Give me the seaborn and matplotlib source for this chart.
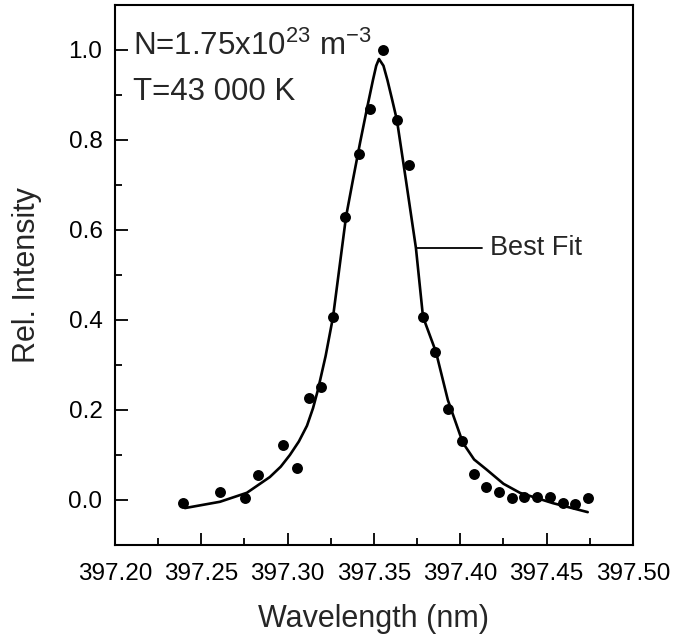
import matplotlib
matplotlib.use("Agg")
import matplotlib.pyplot as plt
from matplotlib.ticker import MultipleLocator
import seaborn as sns
import pandas as pd

wl_points = [397.2394, 397.2608, 397.2753, 397.2828, 397.2973, 397.3054, 397.3124,
             397.3193, 397.3263, 397.3332, 397.3413, 397.3477, 397.3552, 397.3633,
             397.3703, 397.3784, 397.3853, 397.3928, 397.4009, 397.4079, 397.4148,
             397.4224, 397.4299, 397.4368, 397.4443, 397.4518, 397.4594, 397.4663,
             397.4738]
int_points = [-0.007, 0.018, 0.004, 0.056, 0.122, 0.071, 0.227,
              0.251, 0.407, 0.629, 0.769, 0.869, 1.000, 0.844,
              0.744, 0.407, 0.329, 0.202, 0.131, 0.058, 0.029,
              0.018, 0.004, 0.007, 0.007, 0.007, -0.007, -0.009,
              0.004]

# best fit curve
wl_fit = [397.2405, 397.2608, 397.2764, 397.2897, 397.2960, 397.3013, 397.3065,
          397.3112, 397.3147, 397.3175, 397.3220, 397.3263, 397.3338, 397.3378,
          397.3420, 397.3459, 397.3494, 397.3513, 397.3529, 397.3555, 397.3578,
          397.3605, 397.3633, 397.3685, 397.3743, 397.3784, 397.3859, 397.3928,
          397.4015, 397.4080, 397.4154, 397.4250, 397.4345, 397.4536, 397.4738]
int_fit = [-0.018, -0.004, 0.016, 0.051, 0.074, 0.100, 0.130,
           0.165, 0.204, 0.244, 0.320, 0.407, 0.629, 0.711,
           0.795, 0.869, 0.933, 0.965, 0.980, 0.965, 0.933,
           0.890, 0.844, 0.711, 0.560, 0.407, 0.329, 0.222,
           0.127, 0.090, 0.067, 0.036, 0.016, -0.007, -0.027]

x_ticks = [397.20, 397.25, 397.30, 397.35, 397.40, 397.45, 397.50]
y_ticks = [0.0, 0.2, 0.4, 0.6, 0.8, 1.0]

sns.set_style("ticks")
plt.rcParams["font.family"] = ["Liberation Sans", "DejaVu Sans"]
plt.rcParams["mathtext.default"] = "regular"

pts = pd.DataFrame({"wl": wl_points, "I": int_points})
fit = pd.DataFrame({"wl": wl_fit, "I": int_fit})

fig = plt.figure(figsize=(6.74, 6.38), dpi=100)
ax = fig.add_axes([0.1706, 0.1458, 0.7685, 0.8464])

sns.lineplot(data=fit, x="wl", y="I", ax=ax, color="black", linewidth=1.9, sort=False)
sns.scatterplot(data=pts, x="wl", y="I", ax=ax, color="black", s=62,
                edgecolor="black", linewidth=0, zorder=3)

ax.set_xlim(397.20, 397.50)
ax.set_ylim(-0.1, 1.1)
ax.set_xticks(x_ticks)
ax.set_xticklabels([f"{v:.2f}" for v in x_ticks])
ax.set_yticks(y_ticks)
ax.set_yticklabels([f"{v:.1f}" for v in y_ticks])
ax.xaxis.set_minor_locator(MultipleLocator(0.025))
ax.yaxis.set_minor_locator(MultipleLocator(0.1))

ax.tick_params(axis="both", which="major", direction="in", length=9, width=1.3,
               labelsize=17.5, color="black", labelcolor="black")
ax.tick_params(axis="both", which="minor", direction="in", length=5, width=1.3,
               color="black")
ax.tick_params(axis="x", which="major", pad=13)
ax.tick_params(axis="y", which="major", pad=9)

for sp in ax.spines.values():
    sp.set_visible(True)
    sp.set_linewidth(1.5)
    sp.set_color("black")

ax.set_xlabel("Wavelength (nm)", fontsize=22, labelpad=14)
ax.set_ylabel("Rel. Intensity", fontsize=22, labelpad=19)

ax.text(397.2104, 1.007, "N=1.75x10$^{23}$ m$^{-3}$", fontsize=22.5,
        va="center", ha="left")
ax.text(397.2104, 0.907, "T=43 000 K", fontsize=22.5, va="center", ha="left")

ax.plot([397.3743, 397.4125], [0.56, 0.56], color="black", linewidth=1.3)
ax.text(397.4172, 0.56, "Best Fit", fontsize=19.5, va="center", ha="left")

fig.savefig("out.png", dpi=100)
